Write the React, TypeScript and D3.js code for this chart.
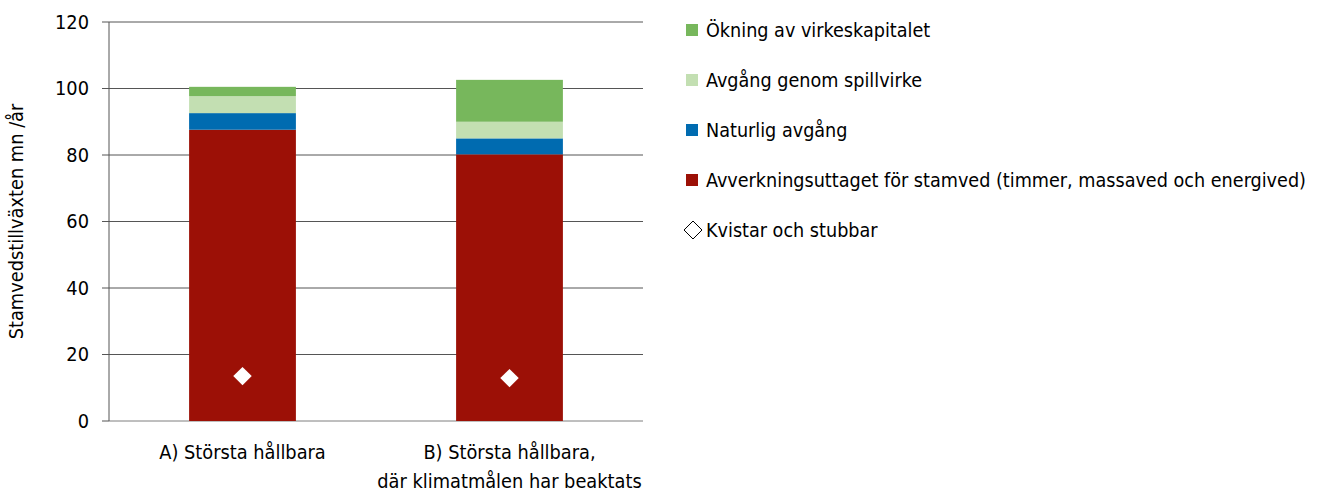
import React from "react";
import * as d3 from "d3";

const categories = ["A) Största hållbara", "B) Största hållbara,\ndär klimatmålen har beaktats"];
const avverkning = [87.6, 80.2];
const naturlig = [5.0, 4.8];
const spillvirke = [5.1, 5.0];
const okning = [2.8, 12.6];
const kvistar = [13.5, 12.9];
const yTicks = [0, 20, 40, 60, 80, 100, 120];

const seriesNames = [
  "Avverkningsuttaget för stamved (timmer, massaved och energived)",
  "Naturlig avgång",
  "Avgång genom spillvirke",
  "Ökning av virkeskapitalet",
];
const seriesColors = ["#9C1006", "#006BB0", "#C3DFB2", "#77B75C"];
const legendOrder = [3, 2, 1, 0];

const W = 1319;
const H = 494;
const margin = { top: 22, right: 676, bottom: 73, left: 109 };
const FONT = "'DejaVu Sans Condensed', 'Open Sans', sans-serif";
const FS = 19.8;

const App = () => {
  const innerW = W - margin.left - margin.right;
  const innerH = H - margin.top - margin.bottom;

  const x = d3.scaleBand().domain(categories).range([0, innerW]).paddingInner(0.6).paddingOuter(0.3);
  const y = d3.scaleLinear().domain([0, 120]).range([innerH, 0]);

  const rows = categories.map((c, i) => ({
    cat: c,
    s0: avverkning[i],
    s1: naturlig[i],
    s2: spillvirke[i],
    s3: okning[i],
  }));
  const stacked = d3.stack<any>().keys(["s0", "s1", "s2", "s3"])(rows);

  // white diamond: a square turned 45 degrees
  const diamond = d3.symbol().type(d3.symbolSquare).size(170)();

  return (
    <svg width={W} height={H} style={{ display: "block", position: "absolute", left: 0, top: 0 }}>
      <g transform={`translate(${margin.left},${margin.top})`} fontFamily={FONT}>
        {yTicks.map((t) => (
          <g key={t}>
            <line x1={0} x2={innerW} y1={y(t)} y2={y(t)} stroke={t === 0 ? "#7f7f7f" : "#555"} strokeWidth={1} />
            <line x1={-7} x2={0} y1={y(t)} y2={y(t)} stroke="#555" />
            <text x={-20} y={y(t)} dy="0.35em" textAnchor="end" fontSize={FS} fill="#000">
              {t}
            </text>
          </g>
        ))}
        <line x1={0} x2={0} y1={0} y2={innerH} stroke="#555" />
        {stacked.map((layer, li) =>
          layer.map((d, i) => (
            <rect
              key={`${li}-${i}`}
              x={x(categories[i])!}
              width={x.bandwidth()}
              y={y(d[1])}
              height={y(d[0]) - y(d[1])}
              fill={seriesColors[li]}
            />
          ))
        )}
        {categories.map((c, i) => (
          <path
            key={c}
            d={diamond!}
            transform={`translate(${x(c)! + x.bandwidth() / 2},${y(kvistar[i])}) rotate(45)`}
            fill="#fff"
          />
        ))}
        {categories.map((c) => {
          const cx = x(c)! + x.bandwidth() / 2;
          return (
            <text key={c} x={cx} y={innerH + 38} textAnchor="middle" fontSize={FS} fill="#000">
              {c.split("\n").map((line, li) => (
                <tspan key={li} x={cx} dy={li === 0 ? 0 : 29}>
                  {line}
                </tspan>
              ))}
            </text>
          );
        })}
        <text
          transform={`translate(${-86},${innerH / 2}) rotate(-90)`}
          textAnchor="middle"
          fontSize={FS}
          fill="#000"
        >
          Stamvedstillväxten mn /år
        </text>
      </g>
      <g fontFamily={FONT}>
        {legendOrder.map((si, k) => (
          <g key={si} transform={`translate(686,${30 + k * 50})`}>
            <rect x={0} y={-6} width={12} height={12} fill={seriesColors[si]} />
            <text x={20} y={0} dy="0.35em" fontSize={19.6} fill="#000">
              {seriesNames[si]}
            </text>
          </g>
        ))}
        <g transform={`translate(686,${30 + 4 * 50})`}>
          <path d="M-2,0 L7,-9 L16,0 L7,9 Z" fill="#fff" stroke="#000" strokeWidth={1} />
          <text x={20} y={0} dy="0.35em" fontSize={19.6} fill="#000">
            Kvistar och stubbar
          </text>
        </g>
      </g>
    </svg>
  );
};

export default App;
